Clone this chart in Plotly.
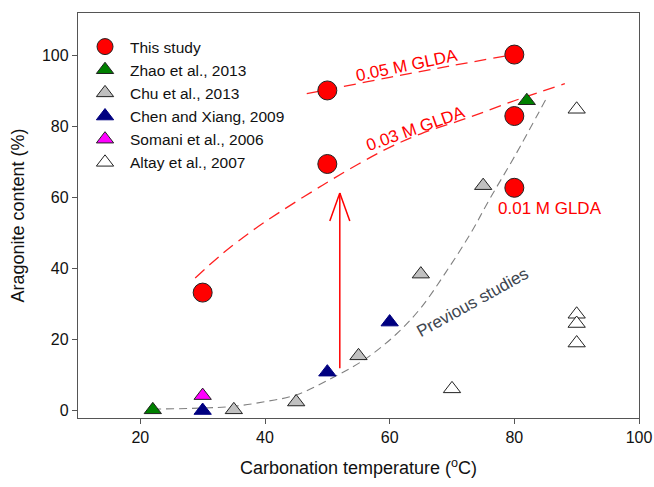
import plotly.graph_objects as go

# ---------------- data ----------------
this_x = [30, 50, 50, 80, 80, 80]
this_y = [33.3, 69.5, 90.2, 100.3, 83.0, 62.8]

zhao_x = [22, 82]
zhao_y = [0.3, 87.3]

chu_x = [35, 45, 55, 65, 75]
chu_y = [0.3, 2.5, 15.5, 38.5, 63.4]

chen_x = [30, 50, 60]
chen_y = [0.1, 10.9, 25.0]

somani_x = [30]
somani_y = [4.3]

altay_x = [70, 90, 90, 90, 90]
altay_y = [6.2, 27.2, 24.6, 19.1, 84.9]

# dashed guide curves
c05_x = [46.7, 50, 60, 70, 80]
c05_y = [89.3, 90.4, 93.9, 97.2, 100.3]

c03_x = [28.8, 33, 38.1, 42.4, 49.3, 55, 60, 65, 72.4, 80, 88.1]
c03_y = [37.4, 44.0, 50.9, 56.0, 63.6, 69.5, 74.2, 78.0, 82.4, 87.3, 92.1]

prev_x = [22, 30, 35, 40, 45, 51, 56, 61, 65, 69, 73, 76, 80, 85]
prev_y = [0.5, 0.8, 1.3, 2.6, 4.5, 9.5, 14.5, 21.5, 29.0, 39.0, 50.0, 59.5, 71.5, 87.5]

# red arrow
arrow_x = [52, 52]
arrow_y = [12, 61.3]

x_ticks = [20, 40, 60, 80, 100]
y_ticks = [0, 20, 40, 60, 80, 100]

FONT = "Arial, Liberation Sans, sans-serif"
EDGE = dict(color="#222222", width=1)

fig = go.Figure()

# lines
fig.add_trace(go.Scatter(x=c05_x, y=c05_y, mode="lines", showlegend=False, hoverinfo="skip",
                         line=dict(color="#ff2020", width=1.3, dash="12px,7px", shape="spline")))
fig.add_trace(go.Scatter(x=c03_x, y=c03_y, mode="lines", showlegend=False, hoverinfo="skip",
                         line=dict(color="#ff2020", width=1.3, dash="12px,7px", shape="spline")))
fig.add_trace(go.Scatter(x=prev_x, y=prev_y, mode="lines", showlegend=False, hoverinfo="skip",
                         line=dict(color="#808080", width=1.1, dash="8px,5px", shape="spline")))
fig.add_trace(go.Scatter(x=arrow_x, y=arrow_y, mode="lines", showlegend=False, hoverinfo="skip",
                         line=dict(color="#ff0000", width=1.5)))

tri = 15
fig.add_trace(go.Scatter(x=this_x, y=this_y, mode="markers", name="This study",
                         marker=dict(symbol="circle", size=19, color="#ff0000", line=EDGE)))
fig.add_trace(go.Scatter(x=zhao_x, y=zhao_y, mode="markers", name="Zhao et al., 2013",
                         marker=dict(symbol="triangle-up", size=tri, color="#008000", line=EDGE)))
fig.add_trace(go.Scatter(x=chu_x, y=chu_y, mode="markers", name="Chu et al., 2013",
                         marker=dict(symbol="triangle-up", size=tri, color="#c0c0c0", line=EDGE)))
fig.add_trace(go.Scatter(x=chen_x, y=chen_y, mode="markers", name="Chen and Xiang, 2009",
                         marker=dict(symbol="triangle-up", size=tri, color="#000080", line=dict(color="#000080", width=1))))
fig.add_trace(go.Scatter(x=somani_x, y=somani_y, mode="markers", name="Somani et al., 2006",
                         marker=dict(symbol="triangle-up", size=tri, color="#ff00ff", line=EDGE)))
fig.add_trace(go.Scatter(x=altay_x, y=altay_y, mode="markers", name="Altay et al., 2007",
                         marker=dict(symbol="triangle-up", size=tri, color="#ffffff", line=EDGE)))

# arrow head (open V) drawn in pixel units from the arrow tip
for dx in (-10, 10):
    fig.add_shape(type="line", xref="x", yref="y", xsizemode="pixel", ysizemode="pixel",
                  xanchor=arrow_x[1], yanchor=arrow_y[1], x0=0, y0=0, x1=dx, y1=-28,
                  line=dict(color="#ff0000", width=1.5))

ann_font = dict(family=FONT, size=17, color="#ff0000")
fig.add_annotation(x=62.8, y=97.2, text="0.05 M GLDA", showarrow=False, textangle=-11.7, font=ann_font)
fig.add_annotation(x=64.3, y=79.4, text="0.03 M GLDA", showarrow=False, textangle=-19.6, font=ann_font)
fig.add_annotation(x=85.7, y=57.1, text="0.01 M GLDA", showarrow=False, font=ann_font)
fig.add_annotation(x=73.3, y=30.6, text="Previous studies", showarrow=False, textangle=-29,
                   font=dict(family=FONT, size=17, color="#404650"))

axis_common = dict(showline=True, mirror=True, linecolor="#555555", linewidth=1.3,
                   ticks="outside", ticklen=5, tickcolor="#555555", tickwidth=1.3,
                   showgrid=False, zeroline=False, automargin=False,
                   tickfont=dict(family=FONT, size=16, color="#111111"))

fig.update_layout(
    width=654, height=487,
    margin=dict(l=78, r=15, t=13, b=69),
    paper_bgcolor="white", plot_bgcolor="white",
    xaxis=dict(range=[10, 100], tickvals=x_ticks,
               title=dict(text="Carbonation temperature (<sup>o</sup>C)", standoff=16,
                          font=dict(family=FONT, size=18, color="#111111")),
               **axis_common),
    yaxis=dict(range=[-2, 112], tickvals=y_ticks,
               title=dict(text="Aragonite content (%)", standoff=12,
                          font=dict(family=FONT, size=18, color="#111111")),
               **axis_common),
    legend=dict(x=0.0036, y=0.958, xanchor="left", yanchor="top",
                bgcolor="rgba(0,0,0,0)", itemwidth=40,
                font=dict(family=FONT, size=15.5, color="#111111")),
    showlegend=True,
)

fig.write_html("out.html")
